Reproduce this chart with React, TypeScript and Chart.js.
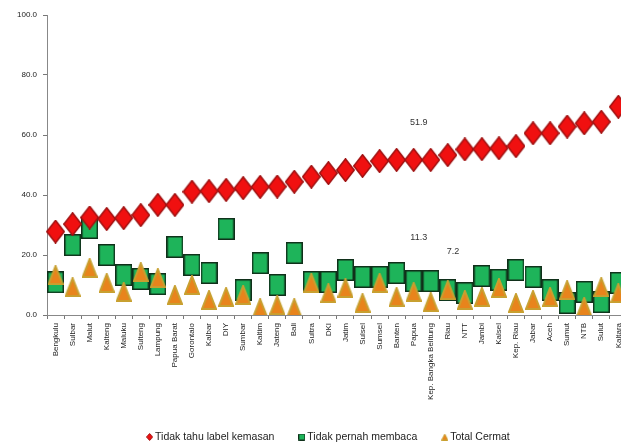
import React, { useEffect, useRef } from 'react';
import { Chart, registerables } from 'chart.js';
Chart.register(...registerables);

const categories = [
  'Bengkulu', 'Sulbar', 'Malut', 'Kalteng', 'Maluku', 'Sulteng', 'Lampung', 'Papua Barat',
  'Gorontalo', 'Kalbar', 'DIY', 'Sumbar', 'Kaltim', 'Jateng', 'Bali', 'Sultra', 'DKI',
  'Jatim', 'Sulsel', 'Sumsel', 'Banten', 'Papua', 'Kep. Bangka Belitung', 'Riau', 'NTT',
  'Jambi', 'Kalsel', 'Kep. Riau', 'Jabar', 'Aceh', 'Sumut', 'NTB', 'Sulut', 'Kaltara',
];

const seriesNames = ['Tidak tahu label kemasan', 'Tidak pernah membaca', 'Total Cermat'];

const tidakTahu = [
  27.8, 30.3, 32.5, 32.0, 32.3, 33.3, 36.7, 36.7, 41.1, 41.3, 41.7, 42.3, 42.7, 42.8, 44.4, 46.1, 47.3,
  48.3, 49.7, 51.3, 51.7, 51.7, 51.7, 53.3, 55.2, 55.3, 55.6, 56.3, 60.6, 60.6, 62.8, 63.9, 64.4, 69.4,
];

const tidakPernah = [
  10.9, 23.3, 29.0, 20.0, 13.3, 12.0, 10.3, 22.7, 16.7, 14.0, 28.7, 8.3, 17.3, 10.0, 20.7, 11.0, 11.0,
  15.0, 12.7, 12.7, 14.0, 11.3, 11.3, 8.3, 7.3, 13.0, 11.7, 15.0, 12.7, 8.3, 4.0, 7.7, 4.3, 10.7,
];

const totalCermat = [
  13.3, 9.3, 15.7, 10.7, 7.7, 14.3, 12.3, 6.7, 10.0, 5.0, 6.0, 6.7, 2.3, 3.3, 2.3, 10.7, 7.3,
  9.0, 4.0, 10.7, 6.0, 7.7, 4.3, 8.3, 5.0, 6.0, 9.0, 4.0, 5.0, 6.0, 8.3, 2.7, 9.3, 7.3,
];

const yTicks = { min: 0, max: 100, step: 20 };

const noteLabels = ['51.9', '11.3', '7.2'];
const noteIndex = [21.3, 21.3, 23.3];
const noteValue = [64, 25.7, 21];

const FONT = '"Liberation Sans", Arial, sans-serif';

function makeShape(kind: string, w: number, h: number, fill: string, stroke: string, lw: number) {
  const c = document.createElement('canvas');
  c.width = w;
  c.height = h;
  const ctx = c.getContext('2d')!;
  ctx.beginPath();
  const p = lw / 2;
  if (kind === 'diamond') {
    ctx.moveTo(w / 2, p);
    ctx.lineTo(w - p, h / 2);
    ctx.lineTo(w / 2, h - p);
    ctx.lineTo(p, h / 2);
    ctx.closePath();
  } else if (kind === 'rect') {
    ctx.rect(p, p, w - lw, h - lw);
  } else {
    ctx.moveTo(w / 2, p);
    ctx.lineTo(w - p, h - p);
    ctx.lineTo(p, h - p);
    ctx.closePath();
  }
  ctx.fillStyle = fill;
  ctx.fill();
  ctx.lineWidth = lw;
  ctx.strokeStyle = stroke;
  ctx.stroke();
  return c;
}

export default function App() {
  const ref = useRef<HTMLCanvasElement>(null);

  useEffect(() => {
    const diamond = makeShape('diamond', 19, 24, '#F01010', '#A01010', 1.5);
    const square = makeShape('rect', 17, 22, '#1EB45A', '#10301A', 1.5);
    const tri = makeShape('tri', 16, 20, '#E8841C', '#C8A030', 2);
    const diamondS = makeShape('diamond', 7, 8, '#F01010', '#A01010', 1);
    const squareS = makeShape('rect', 7, 7, '#1EB45A', '#10301A', 1);
    const triS = makeShape('tri', 7, 7, '#E8841C', '#C8A030', 1);
    const smalls = [diamondS, squareS, triS];

    const notes = {
      id: 'notes',
      afterDatasetsDraw(chart: any) {
        const { ctx, scales } = chart;
        ctx.save();
        ctx.font = `9px ${FONT}`;
        ctx.fillStyle = '#333';
        ctx.textAlign = 'center';
        ctx.textBaseline = 'middle';
        noteLabels.forEach((t, i) => {
          ctx.fillText(t, scales.x.getPixelForValue(noteIndex[i]), scales.y.getPixelForValue(noteValue[i]));
        });
        ctx.restore();
      },
    };

    const legend = {
      id: 'customLegend',
      afterDraw(chart: any) {
        const { ctx, chartArea } = chart;
        ctx.save();
        ctx.font = `10.5px ${FONT}`;
        ctx.fillStyle = '#222';
        ctx.textBaseline = 'middle';
        ctx.textAlign = 'left';
        const gap = 24;
        const markW = 9;
        const widths = seriesNames.map((n) => markW + ctx.measureText(n).width);
        const total = widths.reduce((a, b) => a + b, 0) + gap * (seriesNames.length - 1);
        let x = (chartArea.left + chartArea.right) / 2 - 9 - total / 2;
        const y = chart.height - 10;
        seriesNames.forEach((n, i) => {
          const img = smalls[i];
          ctx.drawImage(img, x, y - img.height / 2);
          ctx.fillText(n, x + markW, y);
          x += widths[i] + gap;
        });
        ctx.restore();
      },
    };

    const chart = new Chart(ref.current!, {
      type: 'line',
      data: {
        labels: categories,
        datasets: [
          { label: seriesNames[0], data: tidakTahu, showLine: false, pointStyle: diamond as any, order: 0 },
          { label: seriesNames[1], data: tidakPernah, showLine: false, pointStyle: square as any, order: 2 },
          { label: seriesNames[2], data: totalCermat, showLine: false, pointStyle: tri as any, order: 1 },
        ],
      },
      options: {
        responsive: false,
        animation: false,
        layout: { padding: { top: 15, right: 3, left: 0, bottom: 22 } },
        plugins: {
          tooltip: { enabled: false },
          legend: { display: false },
        },
        scales: {
          x: {
            offset: true,
            afterFit(s: any) { s.height = 110; },
            grid: { display: true, drawOnChartArea: false, offset: true, tickLength: 4, color: '#777' },
            border: { display: true, color: '#888' },
            ticks: {
              autoSkip: false,
              maxRotation: 90,
              minRotation: 90,
              padding: 4,
              color: '#222',
              font: { size: 8, family: FONT },
            },
          },
          y: {
            min: yTicks.min,
            max: yTicks.max,
            afterFit(s: any) { s.width = 47; },
            grid: { display: true, drawOnChartArea: false, tickLength: 4, color: '#777' },
            border: { display: true, color: '#888' },
            ticks: {
              stepSize: yTicks.step,
              padding: 6,
              color: '#222',
              font: { size: 8, family: FONT },
              callback: (v: any) => Number(v).toFixed(1),
            },
          },
        },
      },
      plugins: [notes, legend],
    });
    return () => chart.destroy();
  }, []);

  return (
    <div style={{ position: 'fixed', left: 0, top: 0, width: 621, height: 447, overflow: 'hidden', background: '#fff' }}>
      <canvas ref={ref} width={632} height={447} style={{ display: 'block' }} />
    </div>
  );
}
